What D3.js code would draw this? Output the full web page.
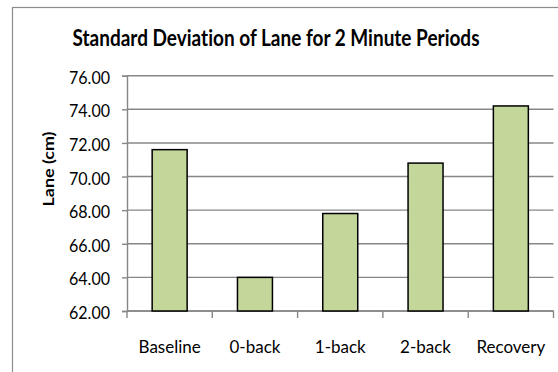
<!DOCTYPE html>
<html>
<head>
<meta charset="utf-8">
<script src="https://cdn.jsdelivr.net/npm/d3@7"></script>
<style>
  html, body { margin: 0; padding: 0; background: #fff; }
  svg { display: block; }
  text { font-family: Lato, "Noto Sans", sans-serif; fill: #000; font-variant-ligatures: none; }
</style>
</head>
<body>
<svg id="chart" width="558" height="372"></svg>
<script>
// Standard deviation of lane position (cm) for each 2-minute period
const periods = ["Baseline", "0-back", "1-back", "2-back", "Recovery"];
const laneSD = [71.6, 64.0, 67.8, 70.8, 74.2];
const yTicks = [62, 64, 66, 68, 70, 72, 74, 76];
const titleText = "Standard Deviation of Lane for 2 Minute Periods";
const yAxisLabel = "Lane (cm)";

const svg = d3.select("#chart");
const W = 558, H = 372;
const plot = { left: 127, right: 553.5, top: 75.7, bottom: 311 };

// outer chart frame (runs off the right and bottom edges)
svg.append("rect")
  .attr("x", 12.5).attr("y", 7.5)
  .attr("width", W + 20).attr("height", H + 20)
  .attr("fill", "#fff")
  .attr("stroke", "#8c8c8c").attr("stroke-width", 1.2);

const x = d3.scaleBand().domain(periods).range([plot.left, plot.right]).padding(0);
const y = d3.scaleLinear().domain([62, 76]).range([plot.bottom, plot.top]);

const gridColor = "#878787";

// horizontal gridlines
svg.append("g").selectAll("line").data(yTicks).join("line")
  .attr("x1", plot.left).attr("x2", plot.right)
  .attr("y1", d => y(d)).attr("y2", d => y(d))
  .attr("stroke", gridColor).attr("stroke-width", 1.4);

// y axis with outward ticks
const yAxis = d3.axisLeft(y).tickValues(yTicks).tickSize(5).tickFormat("");
const gy = svg.append("g").attr("transform", `translate(${plot.left},0)`).call(yAxis);
gy.select(".domain").attr("stroke", gridColor).attr("stroke-width", 1.4);
gy.selectAll(".tick line").attr("stroke", gridColor).attr("stroke-width", 1.4);

// y tick labels
svg.append("g").selectAll("text").data(yTicks).join("text")
  .attr("x", 110).attr("y", d => y(d) + 8)
  .attr("text-anchor", "end")
  .attr("font-size", 17)
  .attr("textLength", 41).attr("lengthAdjust", "spacingAndGlyphs")
  .text(d => d3.format(".2f")(d));

// x axis line with ticks at category boundaries
const boundaries = periods.map(p => x(p)).concat([plot.right]);
svg.append("line")
  .attr("x1", plot.left).attr("x2", plot.right)
  .attr("y1", y(62)).attr("y2", y(62))
  .attr("stroke", gridColor).attr("stroke-width", 1.4);
svg.append("g").selectAll("line").data(boundaries).join("line")
  .attr("x1", d => d).attr("x2", d => d)
  .attr("y1", y(62)).attr("y2", y(62) + 7)
  .attr("stroke", gridColor).attr("stroke-width", 1.4);

// bars
const barW = x.bandwidth() * 0.41;
svg.append("g").selectAll("rect").data(periods).join("rect")
  .attr("x", d => x(d) + (x.bandwidth() - barW) / 2)
  .attr("width", barW)
  .attr("y", (d, i) => y(laneSD[i]))
  .attr("height", (d, i) => y(62) - y(laneSD[i]))
  .attr("fill", "#c4d79b")
  .attr("stroke", "#000").attr("stroke-width", 1.5);

// category labels
svg.append("g").selectAll("text").data(periods).join("text")
  .attr("x", d => x(d) + x.bandwidth() / 2)
  .attr("y", 353)
  .attr("text-anchor", "middle")
  .attr("font-size", 17)
  .text(d => d);

// title
svg.append("text")
  .attr("x", 276).attr("y", 46)
  .attr("text-anchor", "middle")
  .attr("font-size", 22).attr("font-weight", "bold")
  .attr("textLength", 407).attr("lengthAdjust", "spacingAndGlyphs")
  .text(titleText);

// y axis title
svg.append("text")
  .attr("transform", "translate(54,169) rotate(-90)")
  .attr("text-anchor", "middle")
  .attr("font-size", 15).attr("font-weight", "bold")
  .attr("textLength", 75).attr("lengthAdjust", "spacingAndGlyphs")
  .text(yAxisLabel);
</script>
</body>
</html>
